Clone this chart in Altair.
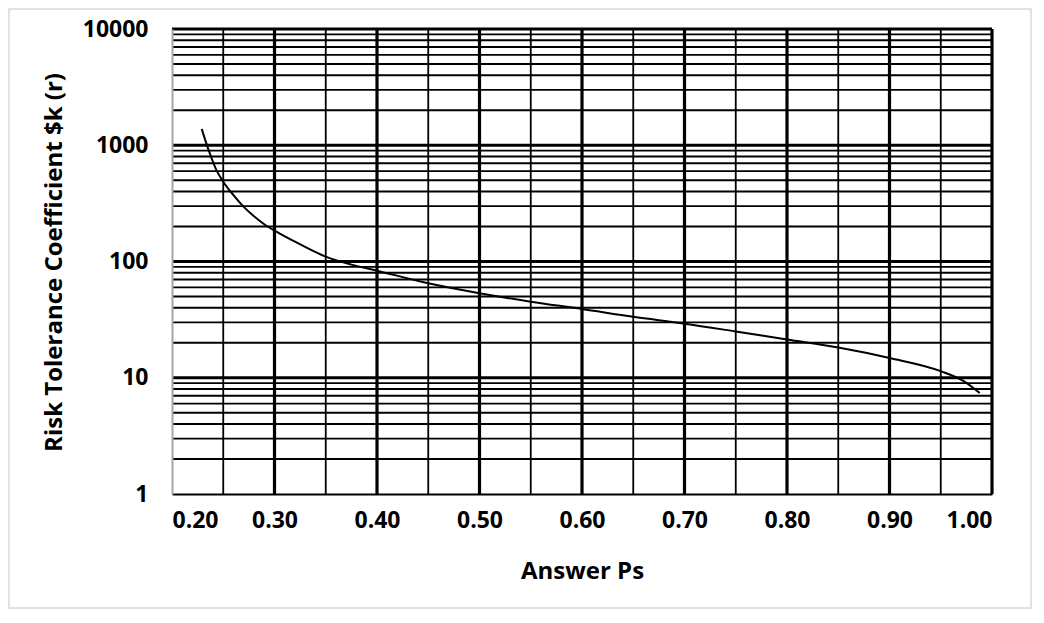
import altair as alt
import pandas as pd

# Curve values
ps = [0.229, 0.233, 0.238, 0.243, 0.25, 0.26, 0.27, 0.28, 0.29, 0.30, 0.32, 0.35, 0.375,
      0.40, 0.45, 0.50, 0.55, 0.60, 0.65, 0.70, 0.75, 0.80, 0.85, 0.90, 0.95, 0.972, 0.988]
rk = [1380, 1070, 800, 620, 486, 372, 295, 245, 209, 184, 148, 110, 94,
      83.4, 64.9, 53.3, 45.1, 39.0, 33.4, 29.2, 25.0, 21.3, 18.2, 14.8, 11.4, 9.4, 7.4]

# Axis ticks and grid positions
x_ticks = [0.2, 0.3, 0.4, 0.5, 0.6, 0.7, 0.8, 0.9, 1.0]
x_major_grid = [0.3, 0.4, 0.5, 0.6, 0.7, 0.8, 0.9, 1.0]
x_minor_grid = [0.25, 0.35, 0.45, 0.55, 0.65, 0.75, 0.85, 0.95]
y_ticks = [1, 10, 100, 1000, 10000]
y_major_grid = [10, 100, 1000, 10000]
y_minor_grid = [m * d for d in [1, 10, 100, 1000] for m in range(2, 10)]

curve = pd.DataFrame({"ps": ps, "r": rk})
xmaj = pd.DataFrame({"ps": x_major_grid})
xmin = pd.DataFrame({"ps": x_minor_grid})
ymaj = pd.DataFrame({"r": y_major_grid})
ymin = pd.DataFrame({"r": y_minor_grid})

FONT = "Open Sans"

xscale = alt.Scale(domain=[0.2, 1.0], nice=False, zero=False)
yscale = alt.Scale(type="log", domain=[1, 10000], nice=False)

xaxis = alt.Axis(values=x_ticks, format=".2f", grid=False, ticks=False, zindex=1,
                 labelFont=FONT, labelFontSize=23, labelFontWeight="bold",
                 labelColor="#000000", labelPadding=15,
                 domainColor="#000000", domainWidth=2,
                 title="Answer Ps", titleFont=FONT, titleFontSize=24,
                 titleFontWeight="bold", titleColor="#000000",
                 titleX=410, titleY=77, titleBaseline="middle", titleAlign="center")
yaxis = alt.Axis(values=y_ticks, format="d", grid=False, ticks=False, zindex=1,
                 labelFont=FONT, labelFontSize=23, labelFontWeight="bold",
                 labelColor="#000000", labelPadding=24,
                 domainColor="#a6a6a6", domainWidth=2,
                 title="Risk Tolerance Coefficient $k (r)", titleFont=FONT,
                 titleFontSize=24, titleFontWeight="bold", titleColor="#000000",
                 titleX=-118, titleY=233, titleAngle=270,
                 titleBaseline="middle", titleAlign="center")

X = alt.X("ps:Q", scale=xscale, axis=xaxis, title="Answer Ps")
Y = alt.Y("r:Q", scale=yscale, axis=yaxis, title="Risk Tolerance Coefficient $k (r)")

frame = alt.Chart(pd.DataFrame({"a": [0]})).mark_rect(
    fill="white", fillOpacity=0, stroke="#d9d9d9", strokeWidth=1.5
).encode(x=alt.value(-163), x2=alt.value(859), y=alt.value(-20), y2=alt.value(579))

v_minor = alt.Chart(xmin).mark_rule(color="#000000", strokeWidth=1.8).encode(x=X)
v_major = alt.Chart(xmaj).mark_rule(color="#000000", strokeWidth=3.2).encode(x=X)
h_minor = alt.Chart(ymin).mark_rule(color="#000000", strokeWidth=1.8).encode(y=Y)
h_major = alt.Chart(ymaj).mark_rule(color="#000000", strokeWidth=3.2).encode(y=Y)

line = alt.Chart(curve).mark_line(color="#000000", strokeWidth=2, interpolate="monotone").encode(
    x=X, y=Y)

chart = alt.layer(frame, v_minor, h_minor, v_major, h_major, line).properties(
    width=820, height=465,
    autosize=alt.AutoSizeParams(type="none"),
    padding={"left": 164, "top": 21, "right": 40, "bottom": 115},
).configure_view(stroke=None).configure(background="white")

chart.save("out.html", embed_options={"renderer": "svg", "actions": False})
